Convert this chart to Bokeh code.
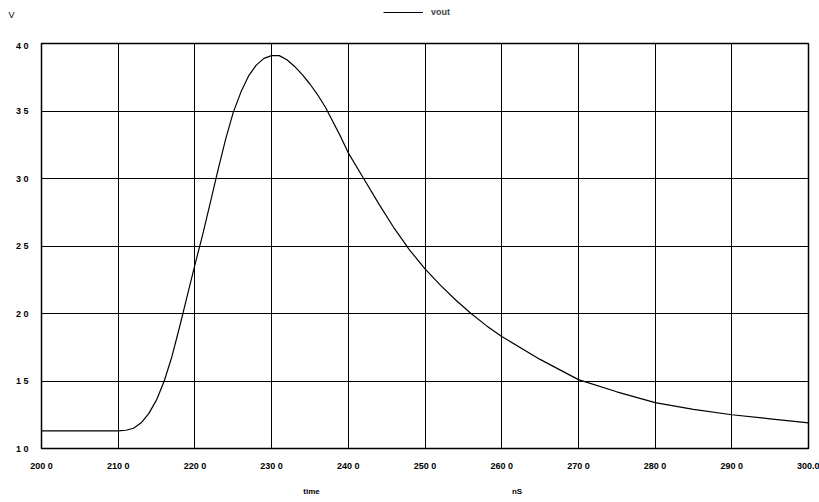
from bokeh.plotting import figure
from bokeh.layouts import column
from bokeh.models import (FixedTicker, Legend, LegendItem, Range1d,
                          LinearAxis)
from bokeh.embed import file_html
from bokeh.resources import INLINE

# ---- data ----
time_ns = [200, 205, 210, 211, 212, 213, 214, 215, 216, 217, 218, 219, 220,
           221, 222, 223, 224, 225, 226, 227, 228, 229, 230, 231, 232, 233,
           234, 235, 236, 237, 238, 239, 240, 242, 244, 246, 248, 250, 252,
           254, 256, 258, 260, 265, 270, 275, 280, 285, 290, 295, 300]
vout = [1.13, 1.13, 1.13, 1.135, 1.15, 1.19, 1.26, 1.36, 1.50, 1.68, 1.90, 2.13, 2.36,
        2.58, 2.82, 3.06, 3.29, 3.49, 3.64, 3.76, 3.84, 3.89, 3.91, 3.91, 3.88, 3.83,
        3.77, 3.70, 3.62, 3.53, 3.42, 3.31, 3.19, 3.00, 2.81, 2.63, 2.47, 2.33, 2.21,
        2.10, 2.00, 1.91, 1.83, 1.66, 1.51, 1.42, 1.34, 1.29, 1.25, 1.22, 1.19]

x_ticks = [200, 210, 220, 230, 240, 250, 260, 270, 280, 290, 300]
x_tick_labels = ["200 0", "210 0", "220 0", "230 0", "240 0", "250 0",
                 "260 0", "270 0", "280 0", "290 0", "300.0"]
y_ticks = [1.0, 1.5, 2.0, 2.5, 3.0, 3.5, 4.0]
y_tick_labels = ["1 0", "1 5", "2 0", "2 5", "3 0", "3 5", "4 0"]

# positions (in time units) of the x-axis name and unit texts
x_name_pos = [235.2, 262.0]
x_name_text = ["time", "nS"]
y_unit = "V"
series_name = "vout"

FONT = "Liberation Sans"
W = 819
HEAD_H = 40
UNIT_ROW = 14  # header row (px from top) of the y unit text

# ---------------- header strip: unit label and legend ----------------
h = figure(width=W, height=HEAD_H, output_backend="svg", toolbar_location=None,
           x_range=Range1d(200, 300), y_range=Range1d(HEAD_H, 0),
           x_axis_type=None, min_border=0, min_border_left=41,
           min_border_right=11)
h.grid.visible = False
h.outline_line_color = None
h.background_fill_color = "white"
h.border_fill_color = "white"

hy = h.yaxis[0]
hy.ticker = FixedTicker(ticks=[UNIT_ROW])
hy.major_label_overrides = {UNIT_ROW: y_unit}
hy.axis_line_color = None
hy.major_tick_line_color = None
hy.minor_tick_line_color = None
hy.major_tick_in = 0
hy.major_tick_out = 0
hy.minor_tick_in = 0
hy.minor_tick_out = 0
hy.major_label_standoff = 27
hy.major_label_text_font = FONT
hy.major_label_text_font_size = "9px"
hy.major_label_text_color = "black"

# legend key: a one-point line (draws nothing itself) styled like the series
key = h.line(x=time_ns[:1], y=vout[:1], line_color="black", line_width=1.2)

legend = Legend(items=[LegendItem(label=series_name, renderers=[key])],
                location=(342, 23), orientation="horizontal",
                padding=0, margin=0, spacing=0,
                glyph_width=40, glyph_height=8, label_height=8,
                label_standoff=8,
                border_line_color=None, background_fill_alpha=0,
                label_text_font=FONT, label_text_font_style="bold",
                label_text_font_size="9px")
h.add_layout(legend, "center")

# ---------------- main plot ----------------
p = figure(width=W, height=458, output_backend="svg", toolbar_location=None,
           x_range=Range1d(200, 300), y_range=Range1d(1.0, 4.0),
           min_border_left=41, min_border_right=11, min_border_top=3,
           min_border_bottom=49)
p.background_fill_color = "white"
p.border_fill_color = "white"
p.outline_line_color = "black"
p.outline_line_width = 1.5

p.line(time_ns, vout, line_color="black", line_width=1.2)

# grid
p.xgrid.ticker = FixedTicker(ticks=x_ticks)
p.ygrid.ticker = FixedTicker(ticks=y_ticks)
for g in (p.xgrid, p.ygrid):
    g.grid_line_color = "black"
    g.grid_line_width = 1
    g.grid_line_alpha = 1.0


def style_axis(ax, standoff):
    ax.axis_line_color = None
    ax.major_tick_line_color = None
    ax.minor_tick_line_color = None
    ax.major_tick_in = 0
    ax.major_tick_out = 0
    ax.minor_tick_in = 0
    ax.minor_tick_out = 0
    ax.major_label_standoff = standoff
    ax.major_label_text_font = FONT
    ax.major_label_text_font_style = "bold"
    ax.major_label_text_font_size = "9px"
    ax.major_label_text_color = "black"


# y axis
p.yaxis.ticker = FixedTicker(ticks=y_ticks)
p.yaxis.major_label_overrides = {t: s for t, s in zip(y_ticks, y_tick_labels)}
style_axis(p.yaxis[0], 13)

# x axis
p.xaxis.ticker = FixedTicker(ticks=x_ticks)
p.xaxis.major_label_overrides = {t: s for t, s in zip(x_ticks, x_tick_labels)}
style_axis(p.xaxis[0], 12)

# second row below: "time" and "nS"
name_axis = LinearAxis(ticker=FixedTicker(ticks=x_name_pos),
                       major_label_overrides={t: s for t, s in zip(x_name_pos, x_name_text)})
style_axis(name_axis, 13)
name_axis.major_label_text_font_size = "8px"
p.add_layout(name_axis, "below")

layout = column(h, p, spacing=0)
open("out.html", "w").write(file_html(layout, INLINE))
